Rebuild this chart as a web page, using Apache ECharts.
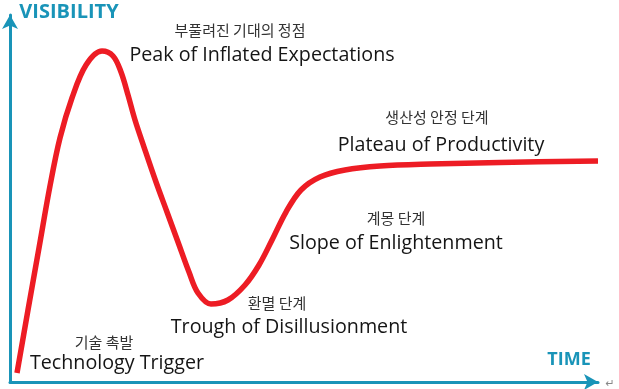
<!DOCTYPE html>
<html>
<head>
<meta charset="utf-8">
<script src="https://cdn.jsdelivr.net/npm/echarts@6/dist/echarts.min.js"></script>
<style>
html,body{margin:0;padding:0;background:#fff;}
#c{width:619px;height:389px;}
</style>
</head>
<body>
<div id="c"></div>
<script>
// Hype cycle curve (time, visibility) in 0-100 units
const timeValues = [1.19, 3.06, 4.93, 6.80, 8.50, 10.54, 12.93, 15.65, 17.52, 18.88, 20.07, 21.26, 22.79, 24.83, 26.70, 28.57, 30.44, 31.97, 34.18, 37.07, 39.97, 42.35, 44.56, 46.94, 49.49, 52.72, 56.97, 62.93, 71.43, 83.33, 100];
const visibilityValues = [2.45, 19.62, 36.51, 53.41, 66.49, 77.38, 86.38, 90.19, 88.83, 84.47, 78.20, 71.39, 64.03, 54.50, 46.32, 38.15, 29.97, 24.25, 21.25, 22.34, 26.43, 31.88, 38.69, 46.32, 52.32, 55.86, 57.77, 58.86, 59.40, 59.81, 60.22];
const axisTitles = { y: 'VISIBILITY', x: 'TIME' };
const phasesKo = ['기술 촉발', '부풀려진 기대의 정점', '환멸 단계', '계몽 단계', '생산성 안정 단계'];
const phasesEn = ['Technology Trigger', 'Peak of Inflated Expectations', 'Trough of Disillusionment', 'Slope of Enlightenment', 'Plateau of Productivity'];

const curve = timeValues.map((t, i) => [t, visibilityValues[i]]);

const teal = '#1994b8';
const enFont = '"Open Sans", "Noto Sans", sans-serif';
const koFont = '"Noto Sans CJK KR", sans-serif';

// label placement (centers, px)
const koPos = [[104, 342], [240, 30], [277, 303], [396, 218], [437, 117]];
const enPos = [[117, 363.5], [262, 55], [289, 327.5], [396, 243.5], [441, 145.5]];

const graphics = [];
phasesKo.forEach((t, i) => {
  graphics.push({ type: 'text', x: koPos[i][0], y: koPos[i][1],
    style: { text: t, fill: '#333', font: '15px ' + koFont, textAlign: 'center', textVerticalAlign: 'middle' } });
});
phasesEn.forEach((t, i) => {
  graphics.push({ type: 'text', x: enPos[i][0], y: enPos[i][1],
    style: { text: t, fill: '#151515', font: '19.7px ' + enFont, textAlign: 'center', textVerticalAlign: 'middle' } });
});
graphics.push({ type: 'text', x: 69, y: 12, style: { text: axisTitles.y, fill: teal, font: 'bold 20px ' + enFont, textAlign: 'center', textVerticalAlign: 'middle' } });
graphics.push({ type: 'text', x: 569, y: 360, style: { text: axisTitles.x, fill: teal, font: 'bold 18px ' + enFont, textAlign: 'center', textVerticalAlign: 'middle' } });
graphics.push({ type: 'text', x: 610, y: 384, style: { text: '↵', fill: '#888', font: '11px "DejaVu Sans"', textAlign: 'center', textVerticalAlign: 'middle' } });

const chart = echarts.init(document.getElementById('c'), null, { renderer: 'canvas' });
chart.setOption({
  animation: false,
  backgroundColor: '#fff',
  grid: { left: 10, right: 21, top: 15, bottom: 7, containLabel: false },
  xAxis: {
    type: 'value', min: 0, max: 100,
    axisLine: { show: true, symbol: ['none', 'arrow'], symbolSize: [12, 14], lineStyle: { color: teal, width: 3 } },
    axisTick: { show: false }, axisLabel: { show: false }, splitLine: { show: false }
  },
  yAxis: {
    type: 'value', min: 0, max: 100,
    axisLine: { show: true, symbol: ['none', 'arrow'], symbolSize: [12, 14], lineStyle: { color: teal, width: 3 } },
    axisTick: { show: false }, axisLabel: { show: false }, splitLine: { show: false }
  },
  series: [{
    type: 'line', data: curve, smooth: 0.35, showSymbol: false,
    lineStyle: { color: '#ed1c24', width: 5.5 }
  }],
  graphic: graphics
});
</script>
</body>
</html>
